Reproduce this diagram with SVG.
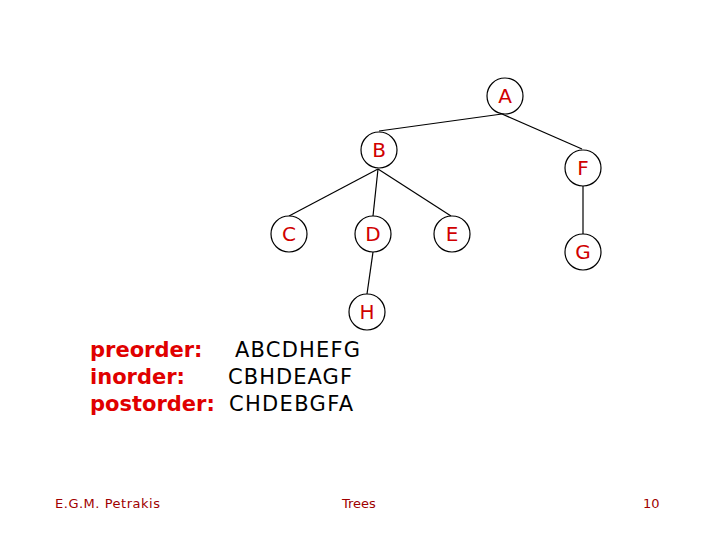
<svg xmlns="http://www.w3.org/2000/svg" width="720" height="540" viewBox="0 0 720 540">
<style>
.n circle{fill:#fff;stroke:#000;stroke-width:1.2}
.n text{font-family:"DejaVu Sans","Liberation Sans",sans-serif;font-size:20px;fill:#d00000;text-anchor:middle}
.e line{stroke:#000;stroke-width:1.2}
.lab{font-family:"DejaVu Sans","Liberation Sans",sans-serif;font-size:21px;font-weight:bold;fill:#e00000}
.seq{font-family:"DejaVu Sans","Liberation Sans",sans-serif;font-size:21px;fill:#000}
.ft{font-family:"DejaVu Sans","Liberation Sans",sans-serif;font-size:13px;fill:#a00000}
</style>
<rect width="720" height="540" fill="#fff"/>
<g id="edges" class="e">
<line x1="502" y1="114" x2="379" y2="131"/>
<line x1="502" y1="114" x2="582" y2="149"/>
<line x1="378" y1="169" x2="289" y2="216"/>
<line x1="378" y1="169" x2="373" y2="216"/>
<line x1="378" y1="169" x2="451" y2="216"/>
<line x1="373" y1="252" x2="367" y2="294"/>
<line x1="583" y1="186" x2="583" y2="234"/>
</g>
<g id="A" class="n"><circle cx="505" cy="96" r="18"/><text x="505" y="103">A</text></g>
<g id="B" class="n"><circle cx="379" cy="150" r="18"/><text x="379" y="157">B</text></g>
<g id="F" class="n"><circle cx="583" cy="168" r="18"/><text x="583" y="175">F</text></g>
<g id="C" class="n"><circle cx="289" cy="234" r="18"/><text x="289" y="241">C</text></g>
<g id="D" class="n"><circle cx="373" cy="234" r="18"/><text x="373" y="241">D</text></g>
<g id="E" class="n"><circle cx="452" cy="234" r="18"/><text x="452" y="241">E</text></g>
<g id="G" class="n"><circle cx="583" cy="252" r="18"/><text x="583" y="259">G</text></g>
<g id="H" class="n"><circle cx="367" cy="312" r="18"/><text x="367" y="319">H</text></g>
<text class="lab" x="90" y="357">preorder:</text>
<text class="seq" x="235" y="357" textLength="125">ABCDHEFG</text>
<text class="lab" x="90" y="384">inorder:</text>
<text class="seq" x="228" y="384" textLength="124">CBHDEAGF</text>
<text class="lab" x="90" y="411">postorder:</text>
<text class="seq" x="229" y="411" textLength="124">CHDEBGFA</text>
<text class="ft" x="55" y="508" textLength="105">E.G.M. Petrakis</text>
<text class="ft" x="342" y="508">Trees</text>
<text class="ft" x="643" y="508">10</text>
</svg>
